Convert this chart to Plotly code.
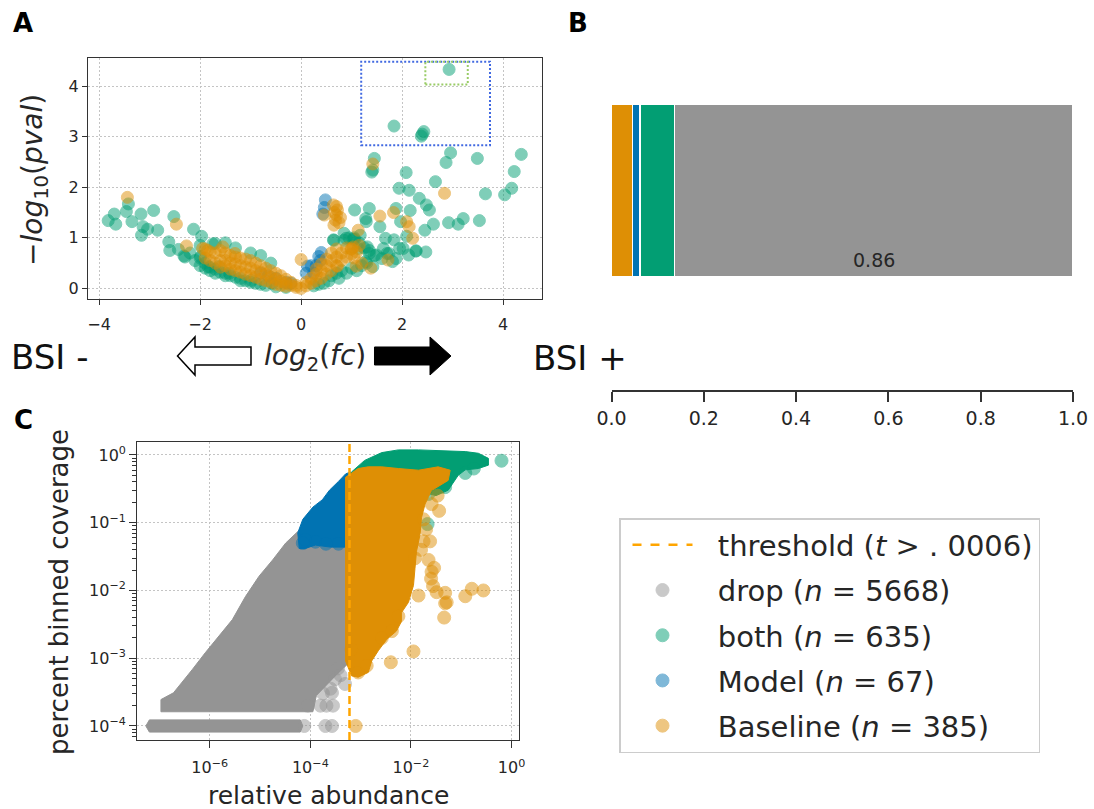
import plotly.graph_objects as go

W, H = 1094, 809
def fx(px): return px / W
def fy(py): return 1 - py / H

GREEN = '#029E73'; BLUE = '#0173B2'; ORANGE = '#DE8F05'; GRAY = '#949494'
TXT = '#262626'; FONT = 'DejaVu Sans'

# ---------------- Panel A data (log2 fc, -log10 pval) ----------------
a_both = [(-3.82,1.34),(-3.70,1.47),(-3.67,1.27),(-3.46,1.52),(-3.42,1.67),(-3.35,1.32),(-3.17,1.47),
          (-3.13,1.22),(-3.16,1.05),(-3.04,1.17),(-2.92,1.54),(-2.84,1.15),(-2.52,1.42),(-2.62,0.92),
          (-2.60,0.75),(-2.43,0.77),(-2.32,0.64),(-2.13,1.17),(-1.97,1.03),(-1.70,0.89),(-2.3,0.62),
          (-2.2,0.7),(-2.1,0.55),(-2.0,0.6),(-2.0,0.45),(-1.9,0.5),(-1.9,0.4),(-1.8,0.42),(-1.8,0.35),
          (-1.7,0.38),(-1.7,0.3),(-1.6,0.32),(-1.5,0.3),(-1.5,0.25),(-1.4,0.25),(-1.3,0.22),(-1.2,0.2),
          (-1.2,0.15),(-1.1,0.15),(-1.0,0.12),(-0.9,0.1),(-0.8,0.08),(-0.7,0.06),(-0.5,0.03),(-0.3,0.02),
          (-2.0,0.85),(-1.75,0.88),(-1.5,0.9),(-1.3,0.8),(-1.0,0.7),(-0.8,0.65),(-0.6,0.5),(-1.99,0.63),
          (-1.84,0.43),(-1.63,0.43),(-1.42,0.3),(-0.99,0.16),(-0.57,0.1),
          (0.6,0.25),(0.7,0.3),(0.8,0.35),(0.9,0.3),(1.0,0.4),(1.1,0.35),(1.2,0.45),(1.3,0.5),(0.85,0.95),
          (0.95,1.0),(1.05,1.0),(1.15,0.9),(1.25,0.8),(1.35,0.75),(1.45,0.65),(0.75,0.2),(0.55,0.15),
          (0.45,0.1),(0.35,0.08),(0.25,0.05),(0.65,0.95),(0.64,0.96),(0.89,0.99),(1.06,0.97),(1.13,0.79),
          (1.31,0.82),(1.35,0.69),(1.42,0.43),(1.28,0.53),(1.60,0.59),(1.67,0.99),(1.84,0.96),(1.95,0.79),
          (1.88,0.59),(1.70,0.69),(2.13,0.66),(2.27,0.74),(2.47,0.72),(1.81,0.53),(1.17,1.05),(1.28,1.38),
          (1.29,1.32),(1.06,1.55),(1.35,1.58),(1.56,1.22),(2.02,0.79),(1.63,0.79),(1.49,0.66),
          (1.45,2.57),(1.42,2.34),(1.40,2.30),(1.84,3.21),(2.40,3.05),(2.43,3.10),(2.38,3.01),(2.93,4.33),
          (2.96,2.68),(2.87,2.49),(2.08,2.29),(1.94,1.98),(2.14,1.94),(2.66,2.11),(2.34,1.78),(2.48,1.65),
          (2.54,1.55),(2.16,1.54),(1.88,1.58),(1.97,1.32),(2.45,1.15),(2.62,1.27),(2.92,1.30),(3.11,1.27),
          (3.21,1.38),(3.53,1.34),(3.49,2.57),(3.65,1.87),(4.03,1.85),(4.17,1.98),(4.22,2.31),(4.36,2.65),
          (2.09,1.03),(2.28,0.74),(1.74,0.69),(1.03,0.97),(0.85,1.09)]
a_model = [(0.48,1.75),(0.43,1.47),(0.46,1.60),(0.35,0.63),(0.38,0.55),(0.30,0.45),(0.25,0.30),
           (0.40,0.71),(0.13,0.44),(0.20,0.45),(0.10,0.30),(-0.30,0.12),(-0.50,0.20),(-0.20,0.10),
           (-0.80,0.30),(-0.65,0.25)]
a_base = [(-3.44,1.80),(-2.47,1.27),(-2.27,0.84),(-1.95,0.79),(-1.55,0.82),(-1.31,0.69),(-1.85,0.75),
          (-1.9,0.78),(-1.9,0.6),(-1.8,0.72),(-1.8,0.55),(-1.7,0.7),(-1.7,0.5),(-1.6,0.75),(-1.6,0.55),
          (-1.6,0.42),(-1.5,0.7),(-1.5,0.55),(-1.5,0.45),(-1.4,0.65),(-1.4,0.5),(-1.4,0.38),(-1.3,0.62),
          (-1.3,0.48),(-1.3,0.35),(-1.2,0.6),(-1.2,0.45),(-1.2,0.32),(-1.1,0.58),(-1.1,0.42),(-1.1,0.28),
          (-1.0,0.55),(-1.0,0.4),(-1.0,0.25),(-0.9,0.5),(-0.9,0.35),(-0.9,0.22),(-0.8,0.45),(-0.8,0.32),
          (-0.8,0.18),(-0.7,0.4),(-0.7,0.28),(-0.7,0.15),(-0.6,0.35),(-0.6,0.22),(-0.6,0.12),(-0.5,0.3),
          (-0.5,0.18),(-0.5,0.08),(-0.4,0.25),(-0.4,0.14),(-0.4,0.06),(-0.3,0.18),(-0.3,0.1),(-0.3,0.04),
          (-0.2,0.12),(-0.2,0.06),(-0.1,0.06),(-0.1,0.02),(0.0,0.0),(0.0,0.57),
          (0.1,0.05),(0.1,0.12),(0.2,0.1),(0.2,0.2),(0.3,0.15),(0.3,0.28),(0.3,0.38),(0.4,0.2),(0.4,0.35),
          (0.4,0.48),(0.5,0.28),(0.5,0.45),(0.5,0.58),(0.6,0.35),(0.6,0.55),(0.6,0.7),(0.7,0.45),(0.7,0.62),
          (0.7,0.78),(0.8,0.55),(0.8,0.7),(0.9,0.62),(0.9,0.8),(1.0,0.68),(1.0,0.78),(1.1,0.72),(0.72,0.44),
          (1.09,0.44),(0.99,0.78),(0.65,1.25),(0.68,1.35),(0.70,1.45),(0.72,1.55),(0.70,1.62),(0.75,1.30),
          (0.78,1.40),(0.66,1.50),(0.46,1.45),(0.64,1.65),(1.05,0.60),(1.20,0.50),(1.15,0.85),
          (1.42,2.46),(1.56,1.43),(1.83,1.50),(2.09,1.32),(2.14,1.22),(2.21,0.99),(2.84,1.88),(1.72,0.56),
          (1.13,1.15),(1.03,0.82),(1.38,0.40)]

# highlight boxes in panel A (data coordinates)
box_outer = dict(x0=1.19, x1=3.74, y0=2.83, y1=4.48)
box_inner = dict(x0=2.46, x1=3.30, y0=4.03, y1=4.48)

# ---------------- Panel B data (fractions) ----------------
b_names = ['Baseline', 'Model', 'both', 'drop']
b_fracs = [0.046, 0.016, 0.075, 0.863]
b_colors = [ORANGE, BLUE, GREEN, GRAY]

# ---------------- Panel C data (log10 abundance, log10 coverage) ----------------
threshold = 0.0006
c_counts = {'drop': 5668, 'both': 635, 'Model': 67, 'Baseline': 385}
# outlines of the saturated point clouds
c_drop_cloud = [(-6.97,-3.79),(-6.97,-3.61),(-6.72,-3.51),(-6.55,-3.36),(-6.35,-3.17),(-6.09,-2.92),
                (-5.82,-2.68),(-5.55,-2.43),(-5.29,-2.09),(-5.02,-1.79),(-4.75,-1.55),(-4.49,-1.30),
                (-4.22,-1.11),(-3.85,-0.80),(-3.25,-0.80),(-3.25,-3.08),(-3.45,-3.22),(-3.70,-3.42),
                (-3.88,-3.55),(-3.95,-3.79)]
c_drop_row = [(-7.27,-4.0),(-7.2,-4.09),(-4.2,-4.09),(-4.15,-4.0),(-4.2,-3.91),(-7.2,-3.91)]
c_drop_pts = [(-4.12,-4.0),(-3.70,-4.0),(-3.57,-4.0),(-4.05,-3.70),(-3.80,-3.70),(-3.68,-3.70),
              (-3.55,-3.70),(-3.51,-3.31),(-3.31,-3.38),(-3.57,-3.51),(-3.45,-3.15),(-3.40,-3.25),
              (-3.60,-3.45),(-3.75,-3.52)]
c_both_cloud = [(-3.18,-0.25),(-2.92,-0.08),(-2.58,0.035),(-2.25,0.075),(-1.85,0.075),(-1.46,0.065),
                (-0.92,0.05),(-0.66,0.025),(-0.46,-0.05),(-0.46,-0.15),(-0.66,-0.20),(-0.92,-0.22),
                (-1.06,-0.30),(-1.26,-0.52),(-1.5,-0.6),(-2.5,-0.4),(-3.2,-0.4)]
c_both_pts = [(-0.20,-0.085),(-0.92,-0.265),(-1.32,-0.475),(-1.67,-1.02),(-1.65,-0.575),(-0.75,-0.2)]
c_model_cloud = [(-4.22,-1.38),(-4.25,-1.15),(-4.15,-0.95),(-3.95,-0.77),(-3.76,-0.66),(-3.62,-0.52),
                 (-3.44,-0.39),(-3.30,-0.28),(-3.20,-0.25),(-3.20,-1.36),(-3.60,-1.36),(-3.90,-1.33),
                 (-4.10,-1.38)]
c_model_pts = [(-4.15,-1.30),(-3.69,-1.31),(-3.44,-1.31),(-4.10,-1.25),(-3.90,-1.28)]
c_base_cloud = [(-3.30,-0.33),(-3.05,-0.20),(-2.85,-0.175),(-2.58,-0.175),(-2.25,-0.20),(-1.85,-0.225),
                (-1.46,-0.175),(-1.22,-0.225),(-1.26,-0.375),(-1.59,-0.525),(-1.72,-0.725),(-1.79,-0.925),
                (-1.82,-1.175),(-1.89,-1.425),(-1.92,-1.675),(-1.95,-1.925),(-2.05,-2.175),(-2.19,-2.33),
                (-2.19,-2.46),(-2.29,-2.60),(-2.48,-2.72),(-2.65,-2.89),(-2.78,-3.04),(-2.85,-3.21),
                (-3.05,-3.28),(-3.18,-3.26),(-3.30,-3.04)]
c_base_pts = [(-1.44,-0.825),(-1.59,-0.725),(-1.47,-0.60),(-1.75,-1.275),(-1.62,-1.275),(-1.65,-1.55),
              (-1.54,-1.665),(-1.59,-1.725),(-1.60,-1.825),(-1.56,-1.935),(-1.49,-2.025),(-1.32,-2.035),
              (-1.29,-2.175),(-0.92,-2.085),(-0.79,-1.975),(-0.56,-2.00),(-1.92,-1.525),(-1.85,-2.075),
              (-1.32,-2.19),(-1.34,-2.40),(-1.95,-2.90),(-2.40,-3.06),(-3.10,-4.00),(-2.58,-2.70),
              (-2.38,-2.60),(-2.25,-2.38),(-2.88,-3.11),(-3.05,-3.21),(-3.18,-2.87),(-1.80,-1.40),
              (-1.70,-1.10),(-1.75,-0.95)]

fig = go.Figure()

def unzip(pairs):
    return [p[0] for p in pairs], [p[1] for p in pairs]

# Panel A scatter
for pts, col in [(a_both, GREEN), (a_model, BLUE), (a_base, ORANGE)]:
    xs, ys = unzip(pts)
    fig.add_trace(go.Scatter(x=xs, y=ys, mode='markers', xaxis='x', yaxis='y', showlegend=False,
                             marker=dict(size=12, color=col, opacity=0.5, line=dict(width=1, color=col))))

# Panel B stacked bar
for name, val, col in zip(b_names, b_fracs, b_colors):
    fig.add_trace(go.Bar(x=[val], y=[0], orientation='h', width=1, xaxis='x2', yaxis='y2',
                         showlegend=False, marker=dict(color=col, line=dict(color='white', width=1.5))))

# Panel C
PAD = '\u2002\u2009'
fig.add_trace(go.Scatter(x=[None], y=[None], mode='lines', xaxis='x3', yaxis='y3',
                         name=PAD + 'threshold (<i>t</i> > . 0006)', legendgroup='g0',
                         line=dict(color='orange', width=2.5, dash='dash')))

def add_cloud(poly, col):
    xs, ys = unzip(poly)
    fig.add_trace(go.Scatter(x=[10 ** v for v in xs + [xs[0]]], y=[10 ** v for v in ys + [ys[0]]],
                             mode='lines', fill='toself', fillcolor=col, line=dict(color=col, width=1),
                             xaxis='x3', yaxis='y3', showlegend=False, hoverinfo='skip'))

def add_pts(pts, col, name, grp):
    xs, ys = unzip(pts)
    fig.add_trace(go.Scatter(x=[10 ** v for v in xs], y=[10 ** v for v in ys], mode='markers',
                             xaxis='x3', yaxis='y3', name=PAD + name, legendgroup=grp,
                             marker=dict(size=13, color=col, opacity=0.5, line=dict(width=1, color=col))))

add_cloud(c_drop_cloud, GRAY); add_cloud(c_drop_row, GRAY)
add_pts(c_drop_pts, GRAY, f"drop (<i>n</i> = {c_counts['drop']})", 'g1')
add_cloud(c_both_cloud, GREEN)
add_pts(c_both_pts, GREEN, f"both (<i>n</i> = {c_counts['both']})", 'g2')
add_cloud(c_model_cloud, BLUE)
add_pts(c_model_pts, BLUE, f"Model (<i>n</i> = {c_counts['Model']})", 'g3')
add_cloud(c_base_cloud, ORANGE)
add_pts(c_base_pts, ORANGE, f"Baseline (<i>n</i> = {c_counts['Baseline']})", 'g4')

shapes = [
    dict(type='line', xref='x3', yref='y3 domain', x0=threshold, x1=threshold, y0=0, y1=1,
         line=dict(color='orange', width=2.5, dash='8px,4px'), layer='above'),
    dict(type='rect', xref='x', yref='y', **box_outer, line=dict(color='#4169E1', width=2, dash='2px,2px')),
    dict(type='rect', xref='x', yref='y', **box_inner, line=dict(color='#99CC66', width=2, dash='2px,2px')),
]
# arrows between panels (paper coordinates)
def path(pts):
    return 'M ' + ' L '.join(f'{fx(a):.5f},{fy(b):.5f}' for a, b in pts) + ' Z'
shapes.append(dict(type='path', xref='paper', yref='paper', fillcolor='white',
                   line=dict(color='black', width=1.5),
                   path=path([(177.5, 356), (195, 337), (195, 347), (251, 347), (251, 365), (195, 365), (195, 375)])))
shapes.append(dict(type='path', xref='paper', yref='paper', fillcolor='black',
                   line=dict(color='black', width=1),
                   path=path([(374.5, 347), (430, 347), (430, 337), (451, 356), (430, 375), (430, 365), (374.5, 365)])))

def ann(px, py, text, size, angle=0, color=TXT, bold=False):
    return dict(x=fx(px), y=fy(py), xref='paper', yref='paper', text=(f'<b>{text}</b>' if bold else text),
                showarrow=False, textangle=angle, xanchor='center', yanchor='middle',
                font=dict(family=FONT, size=size, color=color))

annotations = [
    ann(23, 23, 'A', 26, color='black', bold=True),
    ann(578, 23, 'B', 26, color='black', bold=True),
    ann(23, 420, 'C', 26, color='black', bold=True),
    ann(34, 180, '−<i>log</i><sub>10</sub>(<i>pval</i>)', 28, angle=-90),
    ann(49, 357, 'BSI -', 34, color='#111111'),
    ann(580, 358, 'BSI +', 34, color='#111111'),
    ann(315, 357, '<i>log</i><sub>2</sub>(<i>fc</i>)', 28),
    ann(59, 592, 'percent binned coverage', 26, angle=-90),
    ann(328, 795, 'relative abundance', 25),
    dict(x=(b_fracs[0] + b_fracs[1] + b_fracs[2] + 1) / 2, y=-0.40, xref='x2', yref='y2',
         text=f'{b_fracs[3]:.2f}', showarrow=False, font=dict(family=FONT, size=19, color=TXT)),
]

frame = dict(showline=True, mirror=True, linecolor='#333333', linewidth=1.25, ticks='outside',
             ticklen=5, tickwidth=1.25, tickcolor='#333333', showgrid=True, gridcolor='#c4c4c4',
             griddash='1.5px,2.5px', gridwidth=1, zeroline=False, automargin=False,
             tickfont=dict(family=FONT, size=16, color=TXT))

sup = lambda e: f'10<sup>{e}</sup>'
fig.update_layout(
    width=W, height=H, margin=dict(l=0, r=0, t=0, b=0, autoexpand=False),
    paper_bgcolor='white', plot_bgcolor='white',
    barmode='stack', showlegend=True, font=dict(family=FONT, color=TXT),
    xaxis=dict(frame, domain=[fx(88), fx(542)], range=[-4.22, 4.77], anchor='y', ticklabelstandoff=6,
               tickvals=[-4, -2, 0, 2, 4], ticktext=['−4', '−2', '0', '2', '4']),
    yaxis=dict(frame, domain=[fy(299), fy(58.3)], range=[-0.21, 4.55], anchor='x',
               tickvals=[0, 1, 2, 3, 4]),
    xaxis2=dict(domain=[fx(611.5), fx(1073)], range=[0, 1], anchor='y2', showline=True, automargin=False,
                linecolor='#333333', linewidth=1.5, ticks='outside', ticklen=10, tickwidth=1.5,
                tickcolor='#333333', showgrid=False, zeroline=False,
                tickvals=[0, 0.2, 0.4, 0.6, 0.8, 1.0], ticktext=['0.0', '0.2', '0.4', '0.6', '0.8', '1.0'],
                tickfont=dict(family=FONT, size=19, color=TXT)),
    yaxis2=dict(domain=[fy(390), fy(60)], range=[-1.153, 0.754], anchor='x2', visible=False,
                automargin=False),
    xaxis3=dict(frame, type='log', domain=[fx(137.3), fx(518.6)], range=[-7.44, 0.14], anchor='y3',
                ticklen=7, ticklabelstandoff=6,
                tickvals=[1e-6, 1e-4, 1e-2, 1], ticktext=[sup('−6'), sup('−4'), sup('−2'), sup('0')]),
    yaxis3=dict(frame, type='log', domain=[fy(740), fy(442.3)], range=[-4.207, 0.187], anchor='x3',
                tickvals=[1e-4, 1e-3, 1e-2, 1e-1, 1],
                ticktext=[sup('−4'), sup('−3'), sup('−2'), sup('−1'), sup('0')], ticklen=7,
                minor=dict(ticks='outside', ticklen=4, tickcolor='#333333', dtick='D1', showgrid=False)),
    legend=dict(x=fx(619), y=fy(518), xanchor='left', yanchor='top', bordercolor='#cccccc',
                borderwidth=1.5, bgcolor='white', font=dict(family=FONT, size=29, color=TXT),
                itemwidth=60, indentation=7, traceorder='grouped', tracegroupgap=4.5),
    shapes=shapes, annotations=annotations,
)

fig.write_html('out.html')
